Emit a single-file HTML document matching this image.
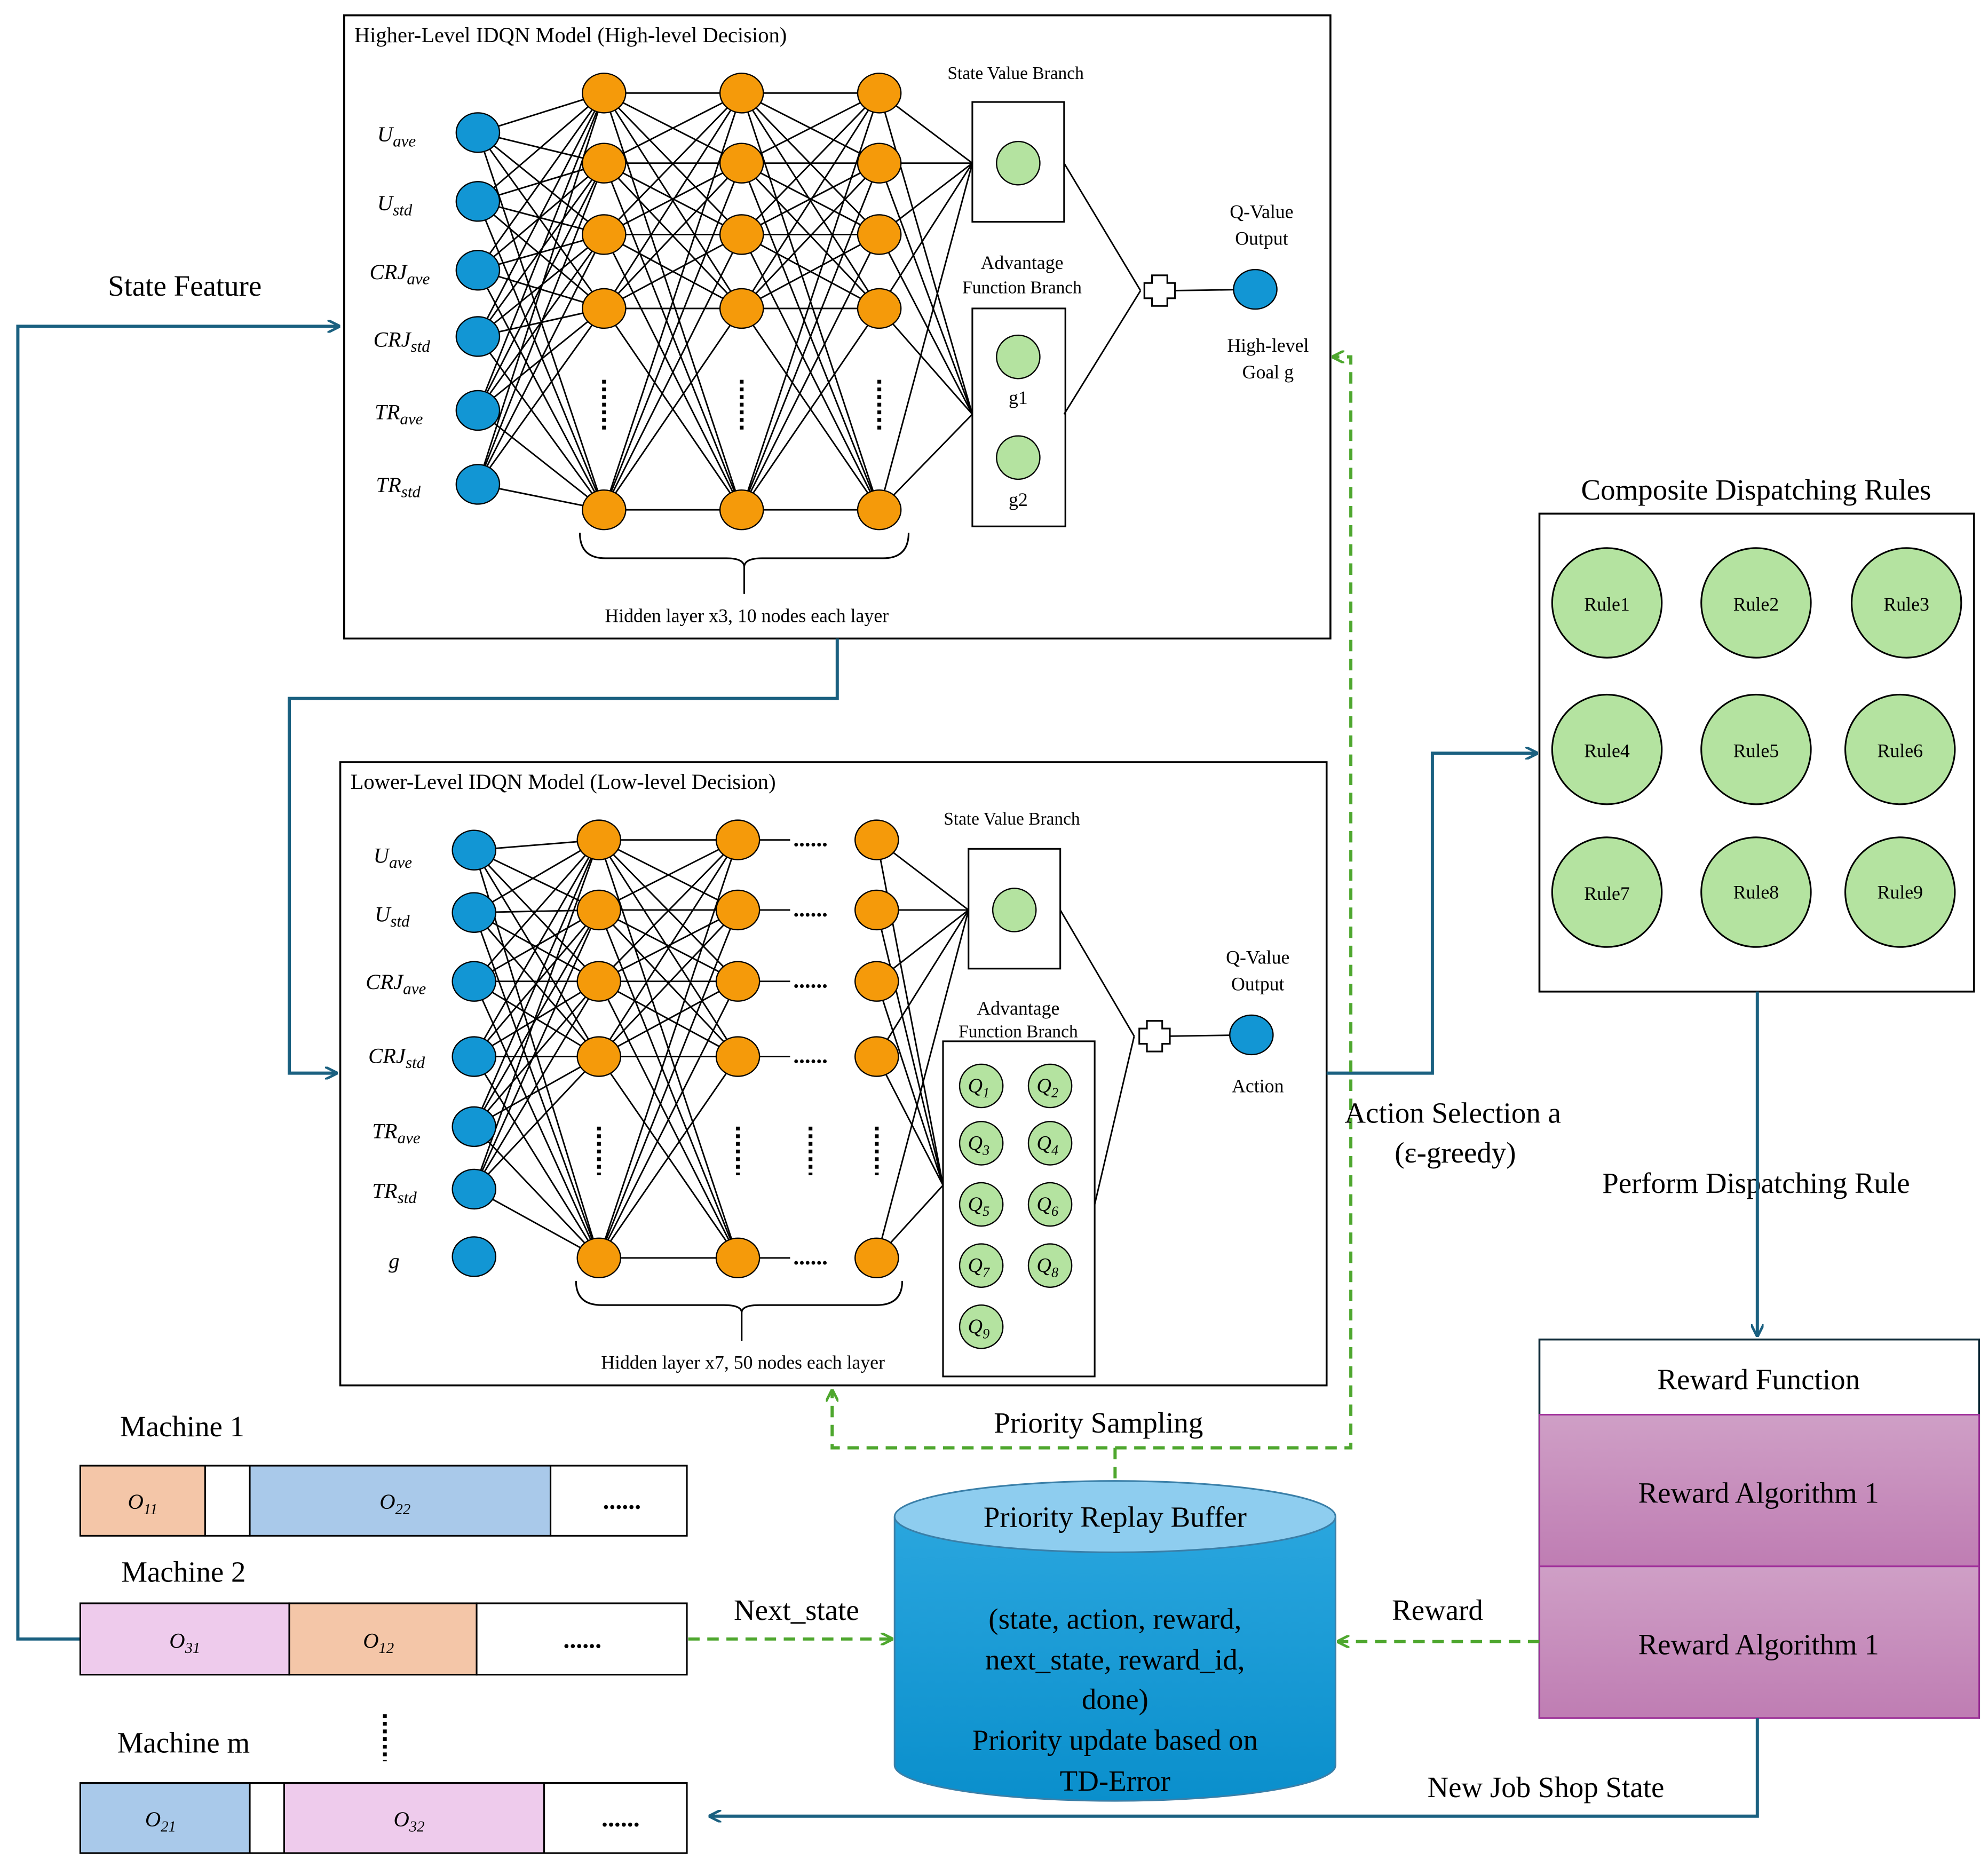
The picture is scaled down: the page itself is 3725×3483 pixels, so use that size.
<!DOCTYPE html>
<html><head><meta charset="utf-8"><style>
html,body{margin:0;padding:0;background:#fff;}
svg{display:block;}
text{font-family:"Liberation Serif",serif;fill:#000;}
</style></head><body>
<svg id="s" width="3725" height="3483" viewBox="0 0 1560 1458.6" xmlns="http://www.w3.org/2000/svg">
<defs>
<marker id="ab" markerWidth="10" markerHeight="10" refX="9" refY="5" orient="auto" markerUnits="userSpaceOnUse"><path d="M0,0 L10,5 L0,10" fill="none" stroke="#1a6080" stroke-width="2"/></marker>
<marker id="ag" markerWidth="10" markerHeight="10" refX="9" refY="5" orient="auto" markerUnits="userSpaceOnUse"><path d="M0,0 L10,5 L0,10" fill="none" stroke="#4ea72e" stroke-width="2"/></marker>
<linearGradient id="pg" x1="0" y1="0" x2="0" y2="1"><stop offset="0" stop-color="#cf9fc6"/><stop offset="1" stop-color="#bf7db3"/></linearGradient>
<linearGradient id="cg" x1="0" y1="0" x2="0" y2="1"><stop offset="0" stop-color="#2aa6de"/><stop offset="1" stop-color="#0a8fcc"/></linearGradient>
</defs>
<g id="lines" stroke="#000" stroke-width="1.2"></g>

<!-- Top box -->
<rect x="270" y="12" width="774" height="489" fill="none" stroke="#000" stroke-width="1.5"/>
<text x="278" y="33" font-size="17">Higher-Level IDQN Model (High-level Decision)</text>
<rect x="763" y="80" width="72" height="94" fill="none" stroke="#000" stroke-width="1.3"/>
<rect x="763" y="242" width="73" height="171" fill="none" stroke="#000" stroke-width="1.3"/>
<text x="797" y="62" font-size="14" text-anchor="middle">State Value Branch</text>
<text x="802" y="211" font-size="15" text-anchor="middle">Advantage</text>
<text x="802" y="230" font-size="14" text-anchor="middle">Function Branch</text>
<text x="799" y="317" font-size="15" text-anchor="middle">g1</text>
<text x="799" y="397" font-size="15" text-anchor="middle">g2</text>
<text x="990" y="171" font-size="15" text-anchor="middle">Q-Value</text>
<text x="990" y="192" font-size="15" text-anchor="middle">Output</text>
<text x="995" y="276" font-size="15" text-anchor="middle">High-level</text>
<text x="995" y="297" font-size="15" text-anchor="middle">Goal g</text>
<path d="M455,418 Q455,438 475,438 L570,438 Q584,438 584,445 M713,418 Q713,438 693,438 L598,438 Q584,438 584,445 L584,466" fill="none" stroke="#000" stroke-width="1.3"/>
<text x="586" y="488" font-size="15" text-anchor="middle">Hidden layer x3, 10 nodes each layer</text>

<!-- Bottom box -->
<rect x="267" y="598" width="774" height="489" fill="none" stroke="#000" stroke-width="1.5"/>
<text x="275" y="619" font-size="17">Lower-Level IDQN Model (Low-level Decision)</text>
<rect x="760" y="666" width="72" height="94" fill="none" stroke="#000" stroke-width="1.3"/>
<rect x="740" y="817" width="119" height="263" fill="none" stroke="#000" stroke-width="1.3"/>
<text x="794" y="647" font-size="14" text-anchor="middle">State Value Branch</text>
<text x="799" y="796" font-size="15" text-anchor="middle">Advantage</text>
<text x="799" y="814" font-size="14" text-anchor="middle">Function Branch</text>
<text x="987" y="756" font-size="15" text-anchor="middle">Q-Value</text>
<text x="987" y="777" font-size="15" text-anchor="middle">Output</text>
<text x="987" y="857" font-size="15" text-anchor="middle">Action</text>
<path d="M452,1005 Q452,1024 472,1024 L568,1024 Q582,1024 582,1030 M708,1005 Q708,1024 688,1024 L596,1024 Q582,1024 582,1030 L582,1052" fill="none" stroke="#000" stroke-width="1.3"/>
<text x="583" y="1074" font-size="15" text-anchor="middle">Hidden layer x7, 50 nodes each layer</text>

<g id="nodes"></g>

<!-- input labels top -->
<g font-size="17" font-style="italic">
<text x="296" y="111">U<tspan font-size="13" dy="4">ave</tspan></text>
<text x="296" y="165">U<tspan font-size="13" dy="4">std</tspan></text>
<text x="290" y="219">CRJ<tspan font-size="13" dy="4">ave</tspan></text>
<text x="293" y="272">CRJ<tspan font-size="13" dy="4">std</tspan></text>
<text x="294" y="329">TR<tspan font-size="13" dy="4">ave</tspan></text>
<text x="295" y="386">TR<tspan font-size="13" dy="4">std</tspan></text>
<text x="293" y="677">U<tspan font-size="13" dy="4">ave</tspan></text>
<text x="294" y="723">U<tspan font-size="13" dy="4">std</tspan></text>
<text x="287" y="776">CRJ<tspan font-size="13" dy="4">ave</tspan></text>
<text x="289" y="834">CRJ<tspan font-size="13" dy="4">std</tspan></text>
<text x="292" y="893">TR<tspan font-size="13" dy="4">ave</tspan></text>
<text x="292" y="940">TR<tspan font-size="13" dy="4">std</tspan></text>
<text x="305" y="995">g</text>
</g>
<g font-size="18" text-anchor="middle" font-weight="bold">
<text x="636" y="664">......</text><text x="636" y="719">......</text><text x="636" y="775">......</text><text x="636" y="834">......</text><text x="636" y="992">......</text>
</g>

<!-- plus signs -->
<g fill="#fff" stroke="#000" stroke-width="1.3">
<path d="M904,216 h12 v6 h6 v12 h-6 v6 h-12 v-6 h-6 v-12 h6z"/>
<path d="M900,801 h12 v6 h6 v12 h-6 v6 h-12 v-6 h-6 v-12 h6z"/>
</g>

<!-- Right: rules -->
<text x="1378" y="392" font-size="23" text-anchor="middle">Composite Dispatching Rules</text>
<rect x="1208" y="403" width="341" height="375" fill="none" stroke="#000" stroke-width="1.5"/>
<g fill="#b4e3a0" stroke="#000" stroke-width="1.3">
<circle cx="1261" cy="473" r="43"/><circle cx="1378" cy="473" r="43"/><circle cx="1496" cy="473" r="43"/>
<circle cx="1261" cy="588" r="43"/><circle cx="1378" cy="588" r="43"/><circle cx="1491" cy="588" r="43"/>
<circle cx="1261" cy="700" r="43"/><circle cx="1378" cy="700" r="43"/><circle cx="1491" cy="700" r="43"/>
</g>
<g font-size="15" text-anchor="middle">
<text x="1261" y="479">Rule1</text><text x="1378" y="479">Rule2</text><text x="1496" y="479">Rule3</text>
<text x="1261" y="594">Rule4</text><text x="1378" y="594">Rule5</text><text x="1491" y="594">Rule6</text>
<text x="1261" y="706">Rule7</text><text x="1378" y="705">Rule8</text><text x="1491" y="705">Rule9</text>
</g>
<text x="1378" y="936" font-size="23" text-anchor="middle">Perform Dispatching Rule</text>

<!-- Reward function -->
<rect x="1208" y="1051" width="345" height="297" fill="#fff" stroke="#0e2a38" stroke-width="1.5"/>
<rect x="1208" y="1110" width="345" height="119" fill="url(#pg)" stroke="#a0309a" stroke-width="1.3"/>
<rect x="1208" y="1229" width="345" height="119" fill="url(#pg)" stroke="#a0309a" stroke-width="1.3"/>
<text x="1380" y="1090" font-size="23" text-anchor="middle">Reward Function</text>
<text x="1380" y="1179" font-size="23" text-anchor="middle">Reward Algorithm 1</text>
<text x="1380" y="1298" font-size="23" text-anchor="middle">Reward Algorithm 1</text>

<!-- connectors solid -->
<g fill="none" stroke="#1a6080" stroke-width="2.5">
<path d="M1379,778 V1048" marker-end="url(#ab)"/>
<path d="M1379,1348 V1425 H557" marker-end="url(#ab)"/>
<path d="M1041,842 H1124 V591 H1206" marker-end="url(#ab)"/>
<path d="M63,1286 H14 V256 H266" marker-end="url(#ab)"/>
<path d="M657,501 V548 H227 V842 H264" marker-end="url(#ab)"/>
</g>
<!-- dashed -->
<g fill="none" stroke="#4ea72e" stroke-width="2.5" stroke-dasharray="9,6">
<path d="M1208,1288 H1050" marker-end="url(#ag)"/>
<path d="M540,1286 H700" marker-end="url(#ag)"/>
<path d="M875,1160 V1136 H653 V1091" marker-end="url(#ag)"/>
<path d="M875,1136 H1060 V280 H1046" marker-end="url(#ag)"/>
</g>
<g font-size="23" text-anchor="middle">
<text x="145" y="232">State Feature</text>
<text x="1140" y="881">Action Selection a</text>
<text x="1142" y="912">(ε-greedy)</text>
<text x="862" y="1124">Priority Sampling</text>
<text x="1128" y="1271">Reward</text>
<text x="625" y="1271">Next_state</text>
<text x="1213" y="1410">New Job Shop State</text>
</g>

<!-- cylinder -->
<path d="M702,1190 V1385 A173,28 0 0 0 1048,1385 V1190" fill="url(#cg)" stroke="#3a7fa8" stroke-width="1.3"/>
<ellipse cx="875" cy="1190" rx="173" ry="28" fill="#8ecdef" stroke="#3a7fa8" stroke-width="1.3"/>
<g font-size="23" text-anchor="middle">
<text x="875" y="1198">Priority Replay Buffer</text>
<text x="875" y="1278">(state, action, reward,</text>
<text x="875" y="1310">next_state, reward_id,</text>
<text x="875" y="1341">done)</text>
<text x="875" y="1373">Priority update based on</text>
<text x="875" y="1405">TD-Error</text>
</g>

<!-- machines -->
<g stroke="#000" stroke-width="1.3">
<rect x="63" y="1150" width="98" height="55" fill="#f4c6a8"/>
<rect x="161" y="1150" width="35" height="55" fill="#fff"/>
<rect x="196" y="1150" width="236" height="55" fill="#a9c9ea"/>
<rect x="432" y="1150" width="107" height="55" fill="#fff"/>
<rect x="63" y="1258" width="164" height="56" fill="#eecbec"/>
<rect x="227" y="1258" width="147" height="56" fill="#f4c6a8"/>
<rect x="374" y="1258" width="165" height="56" fill="#fff"/>
<rect x="63" y="1399" width="133" height="55" fill="#a9c9ea"/>
<rect x="196" y="1399" width="27" height="55" fill="#fff"/>
<rect x="223" y="1399" width="204" height="55" fill="#eecbec"/>
<rect x="427" y="1399" width="112" height="55" fill="#fff"/>
</g>
<g font-size="23" text-anchor="middle">
<text x="143" y="1127">Machine 1</text>
<text x="144" y="1241">Machine 2</text>
<text x="144" y="1375">Machine m</text>
</g>
<g font-size="17" font-style="italic" text-anchor="middle">
<text x="112" y="1184">O<tspan font-size="12" dy="4">11</tspan></text>
<text x="310" y="1184">O<tspan font-size="12" dy="4">22</tspan></text>
<text x="145" y="1293">O<tspan font-size="12" dy="4">31</tspan></text>
<text x="297" y="1293">O<tspan font-size="12" dy="4">12</tspan></text>
<text x="126" y="1433">O<tspan font-size="12" dy="4">21</tspan></text>
<text x="321" y="1433">O<tspan font-size="12" dy="4">32</tspan></text>
</g>
<g font-size="20" font-weight="bold" text-anchor="middle">
<text x="488" y="1184">......</text>
<text x="457" y="1293">......</text>
<text x="487" y="1433">......</text>
</g>
<line x1="302" y1="1345" x2="302" y2="1382" stroke="#000" stroke-width="3" stroke-dasharray="3,3"/>
</svg>
<script>
(function(){
var NS="http://www.w3.org/2000/svg",L=document.getElementById('lines'),N=document.getElementById('nodes');
function ln(a,b,c,d){var e=document.createElementNS(NS,'line');e.setAttribute('x1',a);e.setAttribute('y1',b);e.setAttribute('x2',c);e.setAttribute('y2',d);L.appendChild(e);}
function el(x,y,f,r){var e=document.createElementNS(NS,'ellipse');e.setAttribute('cx',x);e.setAttribute('cy',y);e.setAttribute('rx',r||17);e.setAttribute('ry',r||15.5);e.setAttribute('fill',f);e.setAttribute('stroke','#000');e.setAttribute('stroke-width','1');N.appendChild(e);}
function tx(x,y,s,sub){var t=document.createElementNS(NS,'text');t.setAttribute('x',x);t.setAttribute('y',y);t.setAttribute('font-size','16');t.setAttribute('font-style','italic');t.setAttribute('text-anchor','middle');t.textContent=s;var u=document.createElementNS(NS,'tspan');u.setAttribute('font-size','11');u.setAttribute('dy','4');u.textContent=sub;t.appendChild(u);N.appendChild(t);}
function vdots(x,y1,y2){var e=document.createElementNS(NS,'line');e.setAttribute('x1',x);e.setAttribute('x2',x);e.setAttribute('y1',y1);e.setAttribute('y2',y2);e.setAttribute('stroke','#000');e.setAttribute('stroke-width','3');e.setAttribute('stroke-dasharray','3,3');N.appendChild(e);}
var B='#1296d4',O='#f59a0a',G='#b4e3a0';
// top
var ti=[104,158,212,264,322,380],th=[73,128,184,242,400],tx3=[474,582,690];
ti.forEach(function(a){th.forEach(function(b){ln(375,a,474,b);});});
for(var k=0;k<2;k++)th.forEach(function(a){th.forEach(function(b){ln(tx3[k],a,tx3[k+1],b);});});
th.forEach(function(a){ln(690,a,763,128);ln(690,a,763,325);});
ln(835,128,895,228);ln(835,325,895,228);ln(922,228,985,227);
ti.forEach(function(a){el(375,a,B);});
tx3.forEach(function(x){th.forEach(function(a){el(x,a,O);});vdots(x,298,338);});
el(799,128,G,17);el(799,280,G,17);el(799,359,G,17);el(985,227,B);
// bottom
var bi=[667,716,770,829,884,933],bh=[659,714,770,829,987];
bi.forEach(function(a){bh.forEach(function(b){ln(372,a,470,b);});});
bh.forEach(function(a){bh.forEach(function(b){ln(470,a,579,b);});});
bh.forEach(function(a){ln(579,a,620,a);});
bh.forEach(function(a){ln(688,a,760,714);ln(688,a,740,930);});
ln(832,714,890,813);ln(859,945,890,813);ln(918,813,982,812);
bi.concat([986]).forEach(function(a){el(372,a,B);});
[470,579,688].forEach(function(x){bh.forEach(function(a){el(x,a,O);});});
[470,579,636,688].forEach(function(x){vdots(x,884,922);});
el(796,714,G,17);el(982,812,B);
var q=[[770,852],[824,852],[770,897],[824,897],[770,945],[824,945],[770,993],[824,993],[770,1041]];
q.forEach(function(p,i){el(p[0],p[1],G,17);tx(p[0]-2,p[1]+5,'Q',String(i+1));});
})();
</script>
</body></html>
